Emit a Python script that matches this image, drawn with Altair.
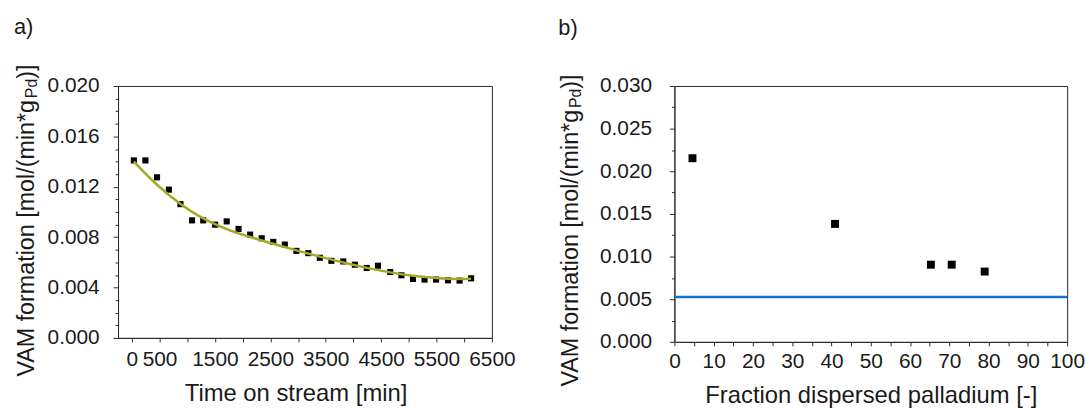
import altair as alt
import pandas as pd

# ---- Panel a: VAM formation vs time on stream ----
time_min = [36, 245, 454, 668, 877, 1086, 1288, 1503, 1712, 1926, 2135, 2344, 2553, 2761, 2970,
            3185, 3393, 3602, 3817, 4026, 4240, 4443, 4664, 4866, 5075, 5284, 5492, 5707, 5916, 6124]
vam_rate = [0.01409, 0.01409, 0.01275, 0.01177, 0.01062, 0.00933, 0.00933, 0.00899, 0.00925, 0.00865,
            0.00820, 0.00791, 0.00762, 0.00741, 0.00691, 0.00673, 0.00636, 0.00612, 0.00607, 0.00581,
            0.00555, 0.00573, 0.00523, 0.00497, 0.00468, 0.00463, 0.00463, 0.00457, 0.00455, 0.00473]

fit_time = [36, 454, 877, 1288, 1712, 2135, 2553, 2970, 3393, 3817, 4240, 4664, 5075, 5492, 5916, 6124]
fit_rate = [0.01400, 0.01216, 0.01064, 0.00949, 0.00864, 0.00801, 0.00747, 0.00695, 0.00645, 0.00598,
            0.00556, 0.00520, 0.00493, 0.00475, 0.00467, 0.00469]

x_ticks_a = [0, 500, 1000, 1500, 2000, 2500, 3000, 3500, 4000, 4500, 5000, 5500, 6000, 6500]
y_ticks_a = [0.000, 0.001, 0.002, 0.003, 0.004, 0.005, 0.006, 0.007, 0.008, 0.009, 0.010,
             0.011, 0.012, 0.013, 0.014, 0.015, 0.016, 0.017, 0.018, 0.019, 0.020]

# ---- Panel b: VAM formation vs dispersed fraction ----
dispersion = [4.6, 40.9, 65.3, 70.6, 79.0]
vam_b = [0.02153, 0.01383, 0.00905, 0.00905, 0.00824]
baseline_rate = [0.00525]

x_ticks_b = [0, 5, 10, 15, 20, 25, 30, 35, 40, 45, 50, 55, 60, 65, 70, 75, 80, 85, 90, 95, 100]
y_ticks_b = [0.0, 0.0025, 0.005, 0.0075, 0.01, 0.0125, 0.015, 0.0175, 0.02, 0.0225, 0.025, 0.0275, 0.03]

FONT = "Liberation Sans"
TXT = "#1a1a1a"
AX = "#2a2a2a"

df_a = pd.DataFrame({"t": time_min, "v": vam_rate})
df_fit = pd.DataFrame({"t": fit_time, "v": fit_rate})
df_b = pd.DataFrame({"d": dispersion, "v": vam_b})
df_base = pd.DataFrame({"v": baseline_rate})
one = pd.DataFrame({"k": [0]})

common = dict(domain=True, domainColor=AX, ticks=True, tickColor=AX, grid=False,
              labelFont=FONT, labelFontSize=21, labelColor=TXT, labelOverlap=False, labelFlush=False,
              titleFont=FONT, titleFontSize=24, titleFontWeight="normal", titleColor=TXT)

axis_xa = alt.Axis(values=x_ticks_a, tickSize=4, labelPadding=7,
                   labelExpr="datum.value == 0 || datum.value % 1000 == 500 ? format(datum.value, 'd') : ''",
                   title="Time on stream [min]", titleX=179, titleY=63, titleAlign="center",
                   titleBaseline="alphabetic", **common)
axis_ya = alt.Axis(values=y_ticks_a, labelPadding=14,
                   tickSize={"condition": {"test": "round(datum.value*1000) % 4 == 0", "value": 5}, "value": 3},
                   labelExpr="round(datum.value*1000) % 4 == 0 ? format(datum.value, '.3f') : ''",
                   title="", **common)

xa = alt.X("t:Q", scale=alt.Scale(domain=[-250, 6500], nice=False, zero=False), axis=axis_xa)
ya = alt.Y("v:Q", scale=alt.Scale(domain=[0, 0.02], nice=False), axis=axis_ya)

pts_a = alt.Chart(df_a).mark_square(size=38, color="black", opacity=1).encode(x=xa, y=ya)
fit_a = alt.Chart(df_fit).mark_line(color="#a5a820", strokeWidth=2.5, interpolate="monotone").encode(x=xa, y=ya)


def ytitle(xb, ystart, fs=23.5):
    main = "VAM formation [mol/(min*g"
    w_main = 11.947 * fs
    w_sub = 1.223 * 16
    t1 = alt.Chart(one).mark_text(text=main, angle=270, align="left", baseline="alphabetic",
                                  font=FONT, fontSize=fs, color=TXT).encode(
        x=alt.value(xb), y=alt.value(ystart))
    t2 = alt.Chart(one).mark_text(text="Pd", angle=270, align="left", baseline="alphabetic",
                                  font=FONT, fontSize=16, color=TXT).encode(
        x=alt.value(xb + 3), y=alt.value(ystart - w_main))
    t3 = alt.Chart(one).mark_text(text=")]", angle=270, align="left", baseline="alphabetic",
                                  font=FONT, fontSize=fs, color=TXT).encode(
        x=alt.value(xb), y=alt.value(ystart - w_main - w_sub))
    return [t1, t2, t3]


def panel_label(s, xl, yb):
    return alt.Chart(one).mark_text(text=s, align="left", baseline="alphabetic", font=FONT,
                                    fontSize=22, color=TXT).encode(x=alt.value(xl), y=alt.value(yb))


chart_a = alt.layer(pts_a, fit_a, *ytitle(-85, 293), panel_label("a)", -105, -52)).properties(
    width=377, height=254)

axis_xb = alt.Axis(values=x_ticks_b, tickSize=4, labelPadding=5,
                   labelExpr="datum.value % 10 == 0 ? format(datum.value, 'd') : ''",
                   title="Fraction dispersed palladium [-]", titleY=61, titleBaseline="alphabetic",
                   **common)
axis_yb = alt.Axis(values=y_ticks_b, labelPadding=18,
                   tickSize={"condition": {"test": "round(datum.value*10000) % 50 == 0", "value": 5}, "value": 3},
                   labelExpr="round(datum.value*10000) % 50 == 0 ? format(datum.value, '.3f') : ''",
                   title="", **common)

xb = alt.X("d:Q", scale=alt.Scale(domain=[0, 100], nice=False), axis=axis_xb)
yb = alt.Y("v:Q", scale=alt.Scale(domain=[0, 0.03], nice=False), axis=axis_yb)

pts_b = alt.Chart(df_b).mark_square(size=64, color="black", opacity=1).encode(x=xb, y=yb)
base_b = alt.Chart(df_base).mark_rule(color="#1470d2", strokeWidth=2.5).encode(y=yb)

chart_b = alt.layer(base_b, pts_b, *ytitle(-97, 303), panel_label("b)", -117, -51)).properties(
    width=396, height=258)

chart = alt.hconcat(chart_a, chart_b, spacing=42).properties(
    padding={"left": 13, "top": 14, "right": 0, "bottom": 0},
    background="white",
).configure_view(stroke=AX, strokeWidth=1)

chart.save("out.html", embed_options={"renderer": "svg", "actions": False})
